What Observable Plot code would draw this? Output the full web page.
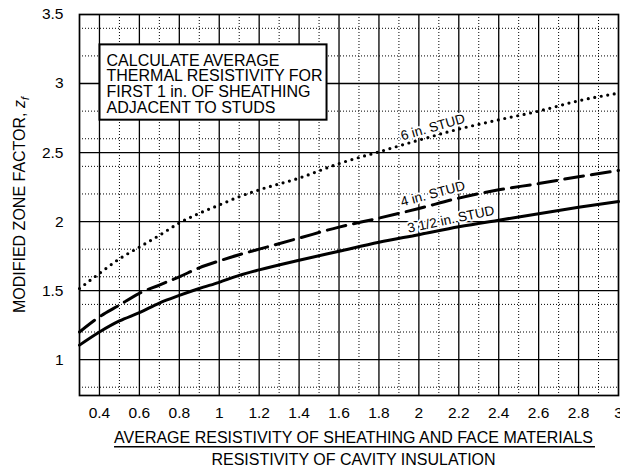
<!DOCTYPE html>
<html><head><meta charset="utf-8">
<script src="https://cdn.jsdelivr.net/npm/d3@7"></script>
<script src="https://cdn.jsdelivr.net/npm/@observablehq/plot@0.6"></script>
<style>
html,body{margin:0;padding:0;background:#fff} svg{display:block}
</style>
</head><body><div id="chart"></div>
<script>
// ---- data ----
const resistivityRatio = [0.3,0.4,0.5,0.6,0.7,0.8,0.9,1.0,1.1,1.2,1.4,1.6,1.8,2.0,2.2,2.4,2.6,2.8,3.0];
const stud3half = [1.105,1.20,1.28,1.34,1.41,1.465,1.515,1.56,1.61,1.65,1.72,1.785,1.85,1.905,1.962,2.01,2.056,2.103,2.145];
const stud4     = [1.20,1.31,1.395,1.48,1.54,1.60,1.665,1.715,1.76,1.80,1.88,1.96,2.025,2.095,2.17,2.23,2.275,2.325,2.37];
const stud6     = [1.515,1.625,1.73,1.815,1.90,1.99,2.06,2.12,2.18,2.23,2.315,2.42,2.505,2.59,2.67,2.737,2.80,2.875,2.93];
const studLabels = ["3 1/2 in. STUD", "4 in. STUD", "6 in. STUD"];
const studLabelAt = [2.16, 2.07, 2.07];
const xTicks = [0.4,0.6,0.8,1,1.2,1.4,1.6,1.8,2,2.2,2.4,2.6,2.8,3];
const xMinor = [0.5,0.7,0.9,1.1,1.3,1.5,1.7,1.9,2.1,2.3,2.5,2.7,2.9];
const yTicks = [1,1.5,2,2.5,3,3.5];
const yMinor = [0.8,1.2,1.4,1.6,1.8,2.2,2.4,2.6,2.8,3.2,3.4];
const noteLines = ["CALCULATE AVERAGE","THERMAL RESISTIVITY FOR","FIRST 1 in. OF SHEATHING","ADJACENT TO STUDS"];
const xLabelTop = "AVERAGE RESISTIVITY OF SHEATHING AND FACE MATERIALS";
const xLabelBottom = "RESISTIVITY OF CAVITY INSULATION";
const yLabelMain = "MODIFIED ZONE FACTOR, ";
const yLabelSymbol = "z";
const yLabelSub = "f";

// ---- build ----
const FONT = "'Liberation Sans', Arial, Helvetica, sans-serif";
const xDomain = [0.3, 3.0], yDomain = [0.74, 3.5];
const series = vals => resistivityRatio.map((x, i) => ({x, y: vals[i]}));
function valueAt(vals, x) {
  const i = Math.max(1, d3.bisectLeft(resistivityRatio, x));
  const x0 = resistivityRatio[i - 1], x1 = resistivityRatio[i];
  const t = (x - x0) / (x1 - x0);
  return vals[i - 1] + t * (vals[i] - vals[i - 1]);
}
const seriesVals = [stud3half, stud4, stud6];
const labelDatum = k => [{x: studLabelAt[k], y: valueAt(seriesVals[k], studLabelAt[k]), text: studLabels[k]}];
const labelStyle = {x: "x", y: "y", text: "text", fontSize: 13.5, fill: "black",
  stroke: "white", strokeWidth: 4, textAnchor: "middle", lineAnchor: "middle"};
const tickFmt = d => String(+d.toFixed(1));

const chart = Plot.plot({
  width: 620, height: 469,
  marginTop: 14, marginBottom: 74, marginLeft: 79, marginRight: 2,
  style: {fontFamily: FONT, fontSize: "15px", color: "black", background: "white"},
  x: {domain: xDomain, axis: null},
  y: {domain: yDomain, axis: null},
  marks: [
    Plot.ruleX(xMinor, {stroke: "black", strokeWidth: 1, strokeDasharray: "1,2"}),
    Plot.ruleY(yMinor, {stroke: "black", strokeWidth: 1, strokeDasharray: "1,2"}),
    Plot.ruleX(xTicks.filter(d => d < xDomain[1]), {stroke: "black", strokeWidth: 1.3}),
    Plot.ruleY(yTicks.filter(d => d < yDomain[1]), {stroke: "black", strokeWidth: 1.3}),
    Plot.frame({stroke: "black", strokeWidth: 1.7}),
    Plot.text(xTicks, {x: d => d, frameAnchor: "bottom", lineAnchor: "top", dy: 11.5,
      text: tickFmt, fontSize: 15.5, fill: "black"}),
    Plot.text(yTicks, {y: d => d, frameAnchor: "left", textAnchor: "end", lineAnchor: "middle", dx: -16,
      text: tickFmt, fontSize: 15.5, fill: "black"}),
    Plot.line(series(stud6), {x: "x", y: "y", curve: "monotone-x", stroke: "black",
      strokeWidth: 3.2, strokeDasharray: "0,6.6", strokeLinecap: "round"}),
    Plot.line(series(stud4), {x: "x", y: "y", curve: "monotone-x", stroke: "black",
      strokeWidth: 3, strokeDasharray: "19,8"}),
    Plot.line(series(stud3half), {x: "x", y: "y", curve: "monotone-x", stroke: "black",
      strokeWidth: 3}),
    Plot.text(labelDatum(2), {...labelStyle, rotate: -16, dy: -9}),
    Plot.text(labelDatum(1), {...labelStyle, rotate: -15, dy: -11}),
    Plot.text(labelDatum(0), {...labelStyle, rotate: -12, dy: -9}),
    Plot.text([noteLines.join("\n")], {frameAnchor: "top-left", textAnchor: "start", lineAnchor: "top",
      dx: 27, dy: 40.3, fontSize: 16, lineHeight: 0.975, fill: "black"}),
    Plot.text([xLabelTop], {frameAnchor: "bottom", lineAnchor: "top", dx: 4.5, dy: 36,
      fontSize: 16, fill: "black"}),
    Plot.text([xLabelBottom], {frameAnchor: "bottom", lineAnchor: "top", dx: 4.5, dy: 57.7,
      fontSize: 16, fill: "black"})
  ]
});
document.getElementById("chart").append(chart);

// ---- decorations measured from the rendered text ----
const svg = d3.select(chart);
const allText = Array.from(chart.querySelectorAll("text"));
const noteText = allText.find(t => t.textContent.startsWith(noteLines[0]));
if (noteText) {
  const b = noteText.getBBox();
  const g = noteText.parentNode;
  const r = document.createElementNS("http://www.w3.org/2000/svg", "rect");
  r.setAttribute("x", b.x - 7); r.setAttribute("y", b.y - 7.5);
  r.setAttribute("width", b.width + 11); r.setAttribute("height", b.height + 11.5);
  r.setAttribute("fill", "white"); r.setAttribute("stroke", "black"); r.setAttribute("stroke-width", 2);
  const tr = noteText.getAttribute("transform");
  if (tr) r.setAttribute("transform", tr);
  g.insertBefore(r, noteText);
}
const numText = allText.find(t => t.textContent === xLabelTop);
if (numText) {
  const b = numText.getBBox();
  const m = numText.getCTM();
  const x0 = m.a * b.x + m.e, x1 = m.a * (b.x + b.width) + m.e;
  svg.append("line").attr("x1", x0).attr("x2", x1 + 2)
    .attr("y1", 446.7).attr("y2", 446.7).attr("stroke", "black").attr("stroke-width", 1.4);
}
const yl = svg.append("text")
  .attr("transform", "translate(25,205) rotate(-90)")
  .attr("text-anchor", "middle")
  .attr("font-family", FONT).attr("font-size", 16).attr("fill", "black");
yl.append("tspan").text(yLabelMain);
yl.append("tspan").attr("font-style", "italic").text(yLabelSymbol);
yl.append("tspan").attr("font-style", "italic").attr("font-size", 11).attr("dy", 4).text(yLabelSub);
</script>
</body></html>
